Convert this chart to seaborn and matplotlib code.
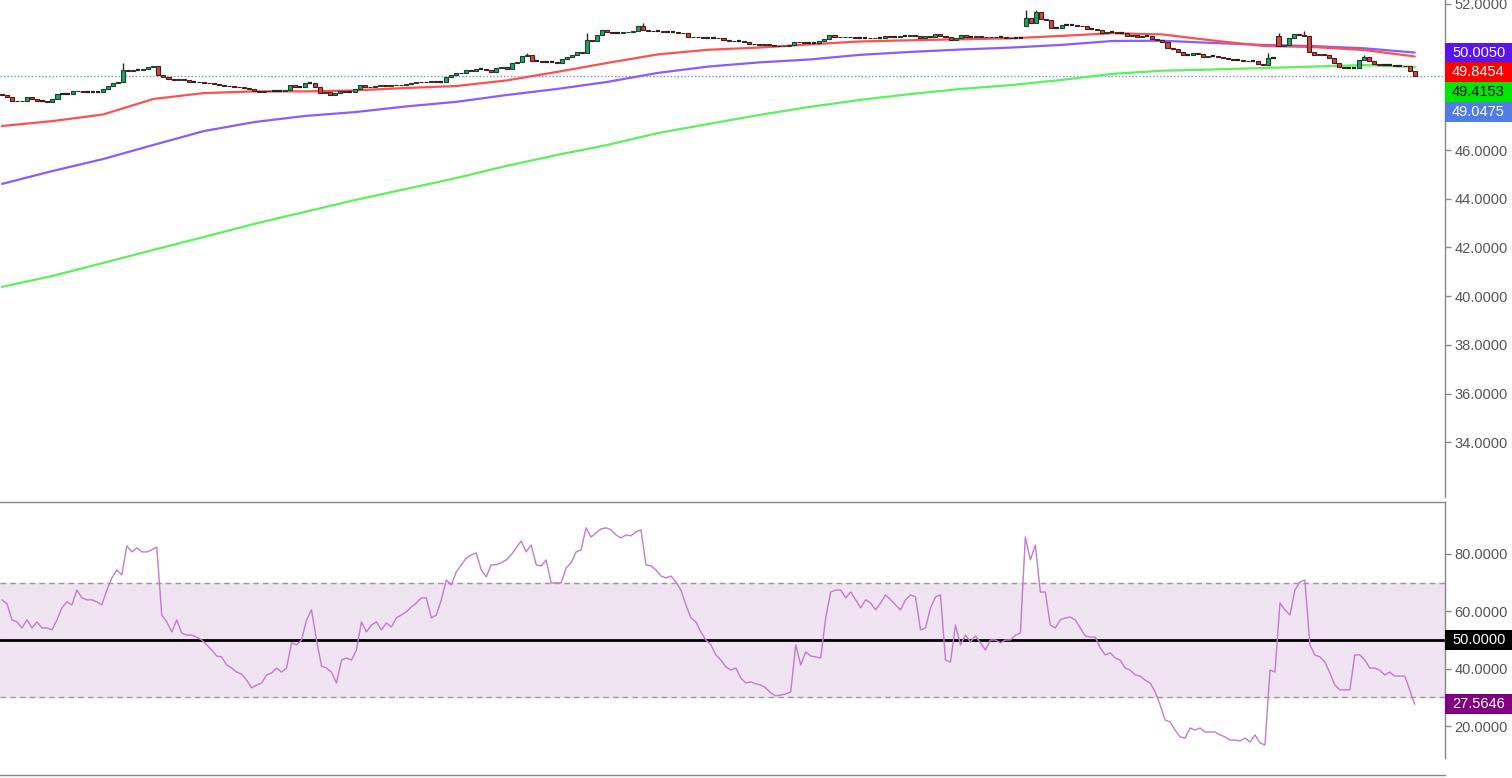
import numpy as np
import matplotlib
matplotlib.use("Agg")
import matplotlib.pyplot as plt
from matplotlib.patches import Rectangle
from matplotlib.ticker import FuncFormatter, FormatStrFormatter
import seaborn as sns

# ----------------- DATA -----------------
# daily closes, read off the candles left to right
closes = [
    48.26, 48.18, 48.02, 48.00, 48.02, 48.18, 48.10, 48.02, 48.02, 47.97, 48.10, 48.30,
    48.30, 48.30, 48.43, 48.41, 48.39, 48.39, 48.39, 48.39, 48.51, 48.63, 48.76, 48.80,
    49.29, 49.26, 49.29, 49.29, 49.33, 49.41, 49.45, 49.08, 49.00, 48.92, 48.88, 48.92,
    48.88, 48.81, 48.81, 48.80, 48.77, 48.76, 48.71, 48.69, 48.65, 48.63, 48.59, 48.57,
    48.54, 48.50, 48.44, 48.40, 48.43, 48.44, 48.44, 48.44, 48.47, 48.67, 48.60, 48.60,
    48.74, 48.74, 48.60, 48.36, 48.40, 48.26, 48.33, 48.44, 48.40, 48.40, 48.50, 48.67,
    48.61, 48.60, 48.63, 48.66, 48.64, 48.69, 48.67, 48.69, 48.70, 48.74, 48.81, 48.80,
    48.78, 48.84, 48.78, 48.78, 48.99, 49.08, 49.18,
    49.15, 49.29, 49.26, 49.32, 49.32, 49.29, 49.20, 49.38, 49.43, 49.33, 49.56, 49.63,
    49.86, 49.91, 49.67, 49.67, 49.63, 49.63, 49.63, 49.59, 49.73, 49.81, 49.91, 50.04,
    50.00, 50.52, 50.49, 50.73, 50.93, 50.84, 50.82, 50.82, 50.84, 50.86, 50.89, 51.10,
    50.93, 50.90, 50.89, 50.89, 50.86, 50.86, 50.86, 50.80, 50.82, 50.63, 50.66,
    50.63, 50.62, 50.62, 50.62, 50.59, 50.52, 50.49, 50.48, 50.48, 50.43, 50.36, 50.34,
    50.32, 50.34, 50.32, 50.29, 50.28, 50.29, 50.32, 50.45, 50.43, 50.39, 50.39, 50.39,
    50.48, 50.56, 50.73, 50.66, 50.63, 50.66, 50.63, 50.62, 50.62, 50.62, 50.59, 50.62,
    50.62, 50.70, 50.66, 50.66, 50.69, 50.69, 50.73, 50.70, 50.62, 50.69, 50.66,
    50.77, 50.69, 50.66, 50.52, 50.59, 50.73, 50.66, 50.66, 50.69, 50.66, 50.63, 50.66,
    50.63, 50.63, 50.60, 50.59, 50.59, 50.59,
    51.41, 51.23, 51.68, 51.37, 51.34, 51.00, 51.00, 51.14, 51.14, 51.14, 51.11, 51.10,
    50.96, 50.96, 50.93, 50.82, 50.84, 50.84, 50.80, 50.80, 50.69, 50.73, 50.66, 50.69,
    50.69, 50.55, 50.52, 50.45, 50.18, 50.14, 50.04, 49.91, 49.91, 49.98, 49.93, 49.84,
    49.86, 49.86, 49.84, 49.77, 49.75, 49.70, 49.70, 49.67, 49.66, 49.66, 49.54, 49.49,
    49.77, 49.77,
    50.28, 50.32, 50.59, 50.76, 50.73, 50.70, 50.04, 49.91, 49.95, 49.91, 49.78, 49.59,
    49.43, 49.36, 49.36, 49.36, 49.70, 49.81, 49.66, 49.52, 49.49, 49.49, 49.49, 49.47,
    49.47, 49.45, 49.26, 49.0475,
]
# bars that opened away from the previous close
gap_opens = {0: 48.32, 203: 51.10, 253: 50.69}
# visible upper wicks
wick_bars = [24, 104, 116, 127, 203, 205, 251, 253, 258, 270]
wick_highs = [49.59, 50.00, 50.82, 51.23, 51.75, 51.75, 50.00, 50.80, 50.90, 49.91]

# moving averages, sampled every 10 bars
ma_idx = [0, 10, 20, 30, 40, 50, 60, 70, 80, 90, 100, 110, 120, 130, 140, 150, 160,
          170, 180, 190, 200, 210, 220, 230, 240, 250, 260, 270, 280]
ma_red = [46.99, 47.19, 47.46, 48.10, 48.34, 48.41, 48.41, 48.45, 48.55, 48.63, 48.86,
          49.21, 49.58, 49.93, 50.12, 50.21, 50.34, 50.46, 50.51, 50.55, 50.59, 50.69,
          50.80, 50.75, 50.50, 50.28, 50.23, 50.11, 49.8454]
ma_purple = [44.61, 45.14, 45.63, 46.21, 46.78, 47.15, 47.40, 47.56, 47.79, 47.98, 48.26,
             48.51, 48.80, 49.17, 49.43, 49.60, 49.72, 49.91, 50.03, 50.13, 50.21, 50.32,
             50.48, 50.49, 50.40, 50.32, 50.27, 50.18, 50.0050]
ma_green = [40.38, 40.83, 41.36, 41.90, 42.43, 42.97, 43.46, 43.95, 44.40, 44.85, 45.35,
            45.80, 46.21, 46.70, 47.07, 47.44, 47.77, 48.06, 48.30, 48.51, 48.67, 48.88,
            49.13, 49.26, 49.31, 49.37, 49.43, 49.49, 49.4153]

# RSI, read at even steps across the same span as the candles
rsi = [
    64.0, 62.6, 57.0, 56.3, 54.2, 57.0, 54.2, 56.3, 54.2, 54.2, 53.5, 57.0, 61.2, 63.3,
    62.2, 67.4, 64.7, 64.0, 64.0, 63.3, 62.2, 67.4, 71.6, 74.4, 72.7, 82.8, 80.7, 82.1,
    80.7, 80.7, 81.4, 82.4, 58.7, 56.3, 52.8, 57.0, 52.4, 51.7, 51.7, 51.0, 50.0, 48.3,
    46.5, 44.4, 44.1, 41.3, 40.2, 38.8, 38.1, 36.0, 33.3, 34.3, 35.0, 37.8, 38.5, 40.2,
    38.8, 40.2, 49.0, 48.3, 50.0, 57.0, 60.5, 50.0, 40.9, 40.2, 38.8, 35.0, 43.0, 43.7,
    43.0, 46.5, 56.3, 52.8, 55.2, 56.3, 53.5, 55.9, 54.5, 57.7, 58.7, 59.8, 61.5, 62.9,
    64.7, 64.7, 57.7, 58.7, 64.0, 70.9, 69.2, 73.7, 76.2, 78.6, 79.7, 80.3, 74.4, 72.0,
    76.2, 76.2, 76.9, 77.9, 79.7, 82.1, 84.5, 80.7, 83.1, 76.2, 75.8, 77.9, 69.9, 69.9,
    69.9, 75.1, 76.9, 80.7, 81.4, 89.1, 85.9, 87.3, 88.7, 89.1, 88.4, 86.6, 85.6, 86.6,
    86.3, 87.7, 88.4, 76.2, 75.8, 74.4, 72.3, 71.6, 72.3, 70.2, 67.4, 62.2, 57.7, 56.3,
    52.8, 50.0, 48.3, 44.8, 43.0, 40.6, 39.5, 40.2, 36.7, 35.0, 35.4, 34.7, 34.3, 33.3,
    31.5, 30.5, 30.8, 31.2, 31.9, 48.3, 41.3, 45.8, 44.4, 44.1, 43.7, 57.7, 66.7, 67.4,
    67.4, 64.7, 66.7, 64.0, 61.2, 64.0, 62.9, 60.5, 62.9, 65.7, 64.0, 62.2, 60.5, 64.0,
    65.7, 65.0, 53.5, 54.2, 61.2, 65.0, 65.7, 43.0, 42.3, 55.2, 48.3, 51.7, 49.3, 51.4,
    49.0, 46.5, 50.0, 50.0, 49.0, 50.0, 50.0, 51.7, 52.4, 85.9, 77.9, 83.1, 66.7, 66.7,
    55.2, 54.2, 57.0, 57.7, 58.0, 57.0, 54.2, 51.4, 51.0, 51.0, 47.2, 44.8, 45.5, 43.7,
    43.0, 40.2, 39.5, 37.8, 37.4, 36.0, 35.0, 31.9, 27.3, 22.1, 21.4, 18.6, 16.2, 15.8,
    19.3, 18.6, 19.3, 17.9, 17.9, 17.9, 16.9, 16.2, 15.1, 15.1, 14.8, 15.8, 14.4, 16.9,
    14.1, 13.4, 39.5, 38.8, 62.9, 60.5, 58.7, 67.4, 70.2, 70.9, 48.3, 44.8, 44.1, 42.3,
    38.5, 34.3, 32.6, 32.6, 32.6, 44.8, 44.8, 43.0, 40.2, 40.2, 39.5, 37.8, 38.8, 37.4,
    37.4, 37.4, 32.6, 27.5646,
]

# month boundaries (bar index) on the date axis
month_ticks = [23, 45, 67, 90, 112, 134, 157, 178, 199, 222, 244, 265, 285]

# ----------------- STYLE -----------------
sns.set_style("white")
plt.rcParams['font.family'] = ['Liberation Sans', 'DejaVu Sans']

W, H = 1512, 778
fig = plt.figure(figsize=(W / 100, H / 100), dpi=100)
ax = fig.add_axes([0, 1 - 497 / H, 1445 / W, 497 / H])
ax2 = fig.add_axes([0, 20 / H, 1445 / W, 256 / H])

n = len(closes)
bars = np.arange(n)
c = np.array(closes)
o = np.array([gap_opens.get(i, closes[i - 1]) for i in range(n)])

# ----------------- PRICE PANEL -----------------
for vals, col in [(ma_green, "#5cf05c"), (ma_purple, "#8a5cff"), (ma_red, "#ff5050")]:
    sns.lineplot(x=ma_idx, y=vals, ax=ax, color=col, linewidth=1.6, zorder=2)

ax.axhline(closes[-1], color="#6b8fe0", linewidth=1, linestyle=(0, (1, 1.5)), zorder=1)

body_lo = np.minimum(o, c)
body_h = np.abs(c - o)
flat = body_h < 0.005
up = (c > o) & ~flat
down = (c < o) & ~flat
wick_base = np.maximum(o, c)[wick_bars]
ax.vlines(wick_bars, wick_base, wick_highs, color="#2b2b2b", linewidth=1, zorder=3)
ax.bar(bars[up], body_h[up], bottom=body_lo[up], width=0.8,
       color="#23a267", edgecolor="#1d3f2e", linewidth=0.8, zorder=4)
ax.bar(bars[down], body_h[down], bottom=body_lo[down], width=0.8,
       color="#c94a44", edgecolor="#4d1a1a", linewidth=0.8, zorder=4)
ax.hlines(c[flat], bars[flat] - 0.42, bars[flat] + 0.42, color="#222222", linewidth=1.6,
          zorder=4)

ax.set_xlim(-0.4, 286)
ax.set_ylim(31.75, 52.164)
ax.yaxis.tick_right()
ax.set_yticks(np.arange(34, 53, 2))
# 48 and 50 sit under the price tags on the right, so their labels stay blank
hidden = {48, 50}
ax.yaxis.set_major_formatter(FuncFormatter(
    lambda v, p: "" if round(v) in hidden else "%.4f" % v))
ax.set_xticks([])
for s in ["top", "left", "bottom"]:
    ax.spines[s].set_visible(False)

# ----------------- RSI PANEL -----------------
ax2.axhspan(30, 70, color="#f0e4f2", zorder=0)
ax2.axhline(70, color="#999999", linewidth=1, linestyle=(0, (4, 3)))
ax2.axhline(30, color="#999999", linewidth=1, linestyle=(0, (4, 3)))
ax2.axhline(50, color="black", linewidth=2)
rsi_x = np.linspace(0, n - 1, len(rsi))
sns.lineplot(x=rsi_x, y=rsi, ax=ax2, color="#c27cca", linewidth=1)

ax2.set_xlim(-0.4, 286)
ax2.set_ylim(8.85, 98.1)
ax2.yaxis.tick_right()
ax2.set_yticks([20, 40, 60, 80])
ax2.yaxis.set_major_formatter(FormatStrFormatter("%.4f"))
ax2.set_xticks(month_ticks)
ax2.tick_params(axis="x", direction="out", length=4, width=1, color="#888888",
                labelbottom=False)
ax2.spines["left"].set_visible(False)
ax2.spines["bottom"].set_position(("outward", 12.2))

for a in (ax, ax2):
    a.set_xlabel("")
    a.set_ylabel("")
    a.tick_params(axis="y", direction="out", length=4, width=1, color="#888888",
                  labelcolor="#555555", labelsize=10.5, pad=3)
    for s in a.spines.values():
        s.set_color("#888888")
        s.set_linewidth(1)


# ----------------- PRICE TAGS -----------------
def price_tags(axis, tags, box_h=19.7):
    prev = None
    for val, txt, bg, fg in sorted(tags, key=lambda t: -t[0]):
        y = axis.transData.transform((0, val))[1]
        if prev is not None:
            y = min(y, prev - box_h)
        prev = y
        fig.add_artist(Rectangle((1445 / W, (y - box_h / 2) / H), 67 / W, box_h / H,
                                 transform=fig.transFigure, facecolor=bg,
                                 edgecolor="none", zorder=10))
        fig.text(1452 / W, y / H, txt, color=fg, va="center", ha="left",
                 fontsize=10.5, zorder=11)


price_tags(ax, [
    (ma_purple[-1], "%.4f" % ma_purple[-1], "#5a14f2", "white"),
    (ma_red[-1], "%.4f" % ma_red[-1], "#ff0000", "white"),
    (ma_green[-1], "%.4f" % ma_green[-1], "#00e600", "black"),
    (closes[-1], "%.4f" % closes[-1], "#4f7de3", "white"),
])
price_tags(ax2, [
    (50, "50.0000", "black", "white"),
    (rsi[-1], "%.4f" % rsi[-1], "#800080", "white"),
])

fig.savefig("out.png", dpi=100, facecolor="white")
